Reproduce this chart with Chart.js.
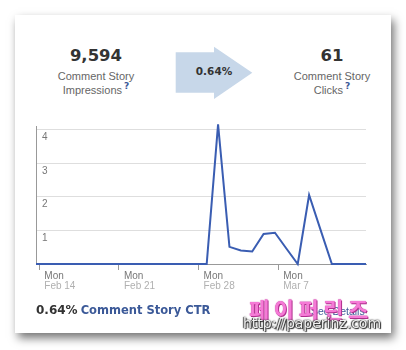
<!DOCTYPE html>
<html>
<head>
<meta charset="utf-8">
<script src="https://cdn.jsdelivr.net/npm/chart.js@4"></script>
<style>
  html, body { margin: 0; padding: 0; background: #fff; }
  body { width: 406px; height: 350px; position: relative; overflow: hidden; font-family: "Liberation Sans", Arial, sans-serif; }
  #card { position: absolute; left: 15px; top: 15px; width: 376px; height: 318px; background: #fff;
          box-shadow: 3px 5px 9px rgba(0,0,0,0.55); }
  .stat { position: absolute; width: 120px; text-align: center; }
  .big { font: bold 16.5px "DejaVu Sans", sans-serif; color: #333; line-height: 20px; }
  .sub { font-size: 11px; color: #666; line-height: 14px; margin-top: 3px; }
  .q { font: bold 9px "DejaVu Sans", sans-serif; color: #3b5998; position: relative; top: -5px; margin-left: 2px; }
  #arrow { position: absolute; left: 175px; top: 46px; }
  #ratio { position: absolute; left: 184px; top: 65px; width: 60px; text-align: center;
           font: bold 10.5px "DejaVu Sans", sans-serif; color: #333; }
  #chart { position: absolute; left: 0; top: 0; }
  #ctr { position: absolute; left: 36px; top: 303px; font: bold 12px "DejaVu Sans", sans-serif; color: #333; white-space: nowrap; }
  #ctr span { color: #3b5998; font-size: 11.5px; margin-left: 3px; }
  #details { position: absolute; left: 311px; top: 305px; font-size: 10.5px; color: #3b5998; }
  #mark1 { position: absolute; left: 249px; top: 292px; font: bold 22px "Noto Sans CJK KR", sans-serif; letter-spacing: 4.5px;
           color: #f57ad6; text-shadow: 0 0 1px #b0308e, 1px 1px 0 #b0308e; white-space: nowrap; }
  #mark2 { position: absolute; left: 243px; top: 315px; font: 14px "DejaVu Sans", sans-serif; color: #f0f0f0; white-space: nowrap;
           text-shadow: 0 0 2px #222, 1px 1px 1px #222, -1px 0 1px #444; }
</style>
</head>
<body>
<div id="card"></div>

<div class="stat" style="left:36px; top:46px;">
  <div class="big">9,594</div>
  <div class="sub">Comment Story<br>Impressions<span class="q">?</span></div>
</div>

<svg id="arrow" width="80" height="56">
  <polygon points="0.7,6.3 39,6.3 39,0.7 77.3,26.7 39,53 39,46.7 0.7,46.7" fill="#c7d7e9"/>
</svg>
<div id="ratio">0.64%</div>

<div class="stat" style="left:272px; top:46px;">
  <div class="big">61</div>
  <div class="sub">Comment Story<br>Clicks<span class="q">?</span></div>
</div>

<canvas id="chart" width="406" height="350"></canvas>

<div id="ctr">0.64%<span>Comment Story CTR</span></div>
<div id="details">See Details</div>
<div id="mark1">페이퍼린즈</div>
<div id="mark2">http://paperinz.com</div>

<script>
// daily comment story CTR, Feb 14 - Mar 15
const days = [
  'Feb 14', 'Feb 15', 'Feb 16', 'Feb 17', 'Feb 18', 'Feb 19', 'Feb 20',
  'Feb 21', 'Feb 22', 'Feb 23', 'Feb 24', 'Feb 25', 'Feb 26', 'Feb 27',
  'Feb 28', 'Mar 1', 'Mar 2', 'Mar 3', 'Mar 4', 'Mar 5', 'Mar 6',
  'Mar 7', 'Mar 8', 'Mar 9', 'Mar 10', 'Mar 11', 'Mar 12', 'Mar 13',
  'Mar 14', 'Mar 15'
];
const ctr = [
  0, 0, 0, 0, 0, 0, 0,
  0, 0, 0, 0, 0, 0, 0,
  0, 0, 4.15, 0.51, 0.40, 0.37, 0.89,
  0.93, 0.46, 0, 2.05, 1.02, 0, 0,
  0, 0
];
const weekDay = 'Mon';
const weekTicks = [0, 7, 14, 21];   // indexes of the Mondays
const yTicks = [0, 1, 2, 3, 4];

const tickShift = 0.29;  // tick marks sit a bit after the day's point
const gray = '#999';

const points = ctr.map((v, i) => ({ x: i, y: v }));

function weekTickValues(scale) {
  scale.ticks = weekTicks.map(i => ({ value: i + tickShift }));
}
function dayFor(value) {
  return days[Math.round(value - tickShift)];
}

const config = {
  type: 'line',
  data: {
    datasets: [{
      data: points,
      borderColor: '#3a5db2',
      borderWidth: 2,
      pointRadius: 0,
      tension: 0,
      fill: false,
      clip: false
    }]
  },
  options: {
    responsive: false,
    animation: false,
    events: [],
    layout: { padding: { left: 36, right: 40, top: 126, bottom: 56 } },
    plugins: { legend: { display: false }, tooltip: { enabled: false } },
    scales: {
      y: {
        min: 0,
        max: 4.1,
        afterBuildTicks: s => { s.ticks = yTicks.map(v => ({ value: v })); },
        afterFit: s => { s.width = 0; },
        border: { color: gray },
        grid: { color: '#dedede', drawTicks: false },
        ticks: {
          mirror: true,
          padding: 6,
          labelOffset: 8,
          color: '#777',
          font: { family: 'Liberation Sans', size: 10 },
          callback: v => (v === 0 ? '' : v)
        }
      },
      x: {
        type: 'linear',
        min: 0,
        max: days.length - 1,
        weight: 0,
        afterBuildTicks: weekTickValues,
        afterFit: s => { s.height = 16; },
        border: { color: gray },
        grid: { drawOnChartArea: false, color: gray, tickLength: 6 },
        ticks: {
          autoSkip: false,
          maxRotation: 0,
          align: 'start',
          labelOffset: 5,
          padding: 0,
          color: '#777',
          font: { family: 'Liberation Sans', size: 10 },
          callback: () => weekDay
        }
      },
      x2: {
        type: 'linear',
        position: 'bottom',
        min: 0,
        max: days.length - 1,
        weight: 1,
        afterBuildTicks: weekTickValues,
        afterFit: s => { s.height = 14; },
        border: { display: false },
        grid: { display: false, drawTicks: false },
        ticks: {
          autoSkip: false,
          maxRotation: 0,
          align: 'start',
          labelOffset: 5,
          padding: 0,
          color: '#b0b0b0',
          font: { family: 'Liberation Sans', size: 10 },
          callback: v => dayFor(v)
        }
      }
    }
  }
};

const chart = new Chart(document.getElementById('chart'), config);
</script>
</body>
</html>
